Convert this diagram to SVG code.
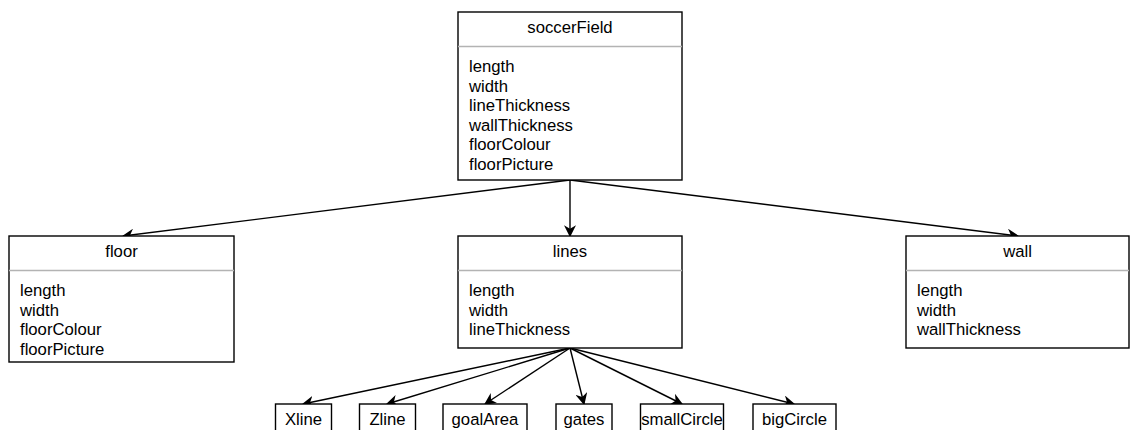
<svg xmlns="http://www.w3.org/2000/svg" width="1130" height="430" viewBox="0 0 1130 430">
<style>
.box{fill:#fff;stroke:#000;stroke-width:1.4}
.sep{stroke:#b3b3b3;stroke-width:1.5}
.t{font-family:"Liberation Sans",Arial,sans-serif;font-size:16.7px;fill:#000}
.c{text-anchor:middle}
.e{stroke:#000;stroke-width:1.4;fill:none;marker-end:url(#ah)}
</style>
<defs>
<marker id="ah" viewBox="0 0 10 10" refX="9" refY="5" markerWidth="12" markerHeight="12" markerUnits="userSpaceOnUse" orient="auto">
<path d="M0,0 L10,5 L0,10 L3,5 Z" fill="#000"/>
</marker>
</defs>
<rect width="1130" height="430" fill="#fff"/>
<g id="connectors">
<line class="e" x1="570" y1="180" x2="123" y2="236"/>
<line class="e" x1="570" y1="180" x2="570" y2="236"/>
<line class="e" x1="570" y1="180" x2="1018" y2="236"/>
<line class="e" x1="570" y1="348" x2="303" y2="404"/>
<line class="e" x1="570" y1="348" x2="387" y2="404"/>
<line class="e" x1="570" y1="348" x2="485" y2="404"/>
<line class="e" x1="570" y1="348" x2="584" y2="404"/>
<line class="e" x1="570" y1="348" x2="682" y2="404"/>
<line class="e" x1="570" y1="348" x2="794" y2="404"/>
</g>
<g id="soccerField">
<rect class="box" x="458" y="12" width="224" height="168"/>
<line class="sep" x1="458" y1="46.5" x2="682" y2="46.5"/>
<text class="t c" x="570" y="33">soccerField</text>
<text class="t" x="469" y="72">length</text>
<text class="t" x="469" y="91.5">width</text>
<text class="t" x="469" y="111">lineThickness</text>
<text class="t" x="469" y="130.5">wallThickness</text>
<text class="t" x="469" y="150">floorColour</text>
<text class="t" x="469" y="169.5">floorPicture</text>
</g>
<g id="floor">
<rect class="box" x="9" y="236" width="225" height="126"/>
<line class="sep" x1="9" y1="270.5" x2="234" y2="270.5"/>
<text class="t c" x="121.5" y="257">floor</text>
<text class="t" x="20" y="296">length</text>
<text class="t" x="20" y="315.5">width</text>
<text class="t" x="20" y="335">floorColour</text>
<text class="t" x="20" y="354.5">floorPicture</text>
</g>
<g id="lines">
<rect class="box" x="458" y="236" width="224" height="112"/>
<line class="sep" x1="458" y1="270.5" x2="682" y2="270.5"/>
<text class="t c" x="570" y="257">lines</text>
<text class="t" x="469" y="296">length</text>
<text class="t" x="469" y="315.5">width</text>
<text class="t" x="469" y="335">lineThickness</text>
</g>
<g id="wall">
<rect class="box" x="906" y="236" width="223" height="112"/>
<line class="sep" x1="906" y1="270.5" x2="1129" y2="270.5"/>
<text class="t c" x="1017.5" y="257">wall</text>
<text class="t" x="917" y="296">length</text>
<text class="t" x="917" y="315.5">width</text>
<text class="t" x="917" y="335">wallThickness</text>
</g>
<g id="Xline">
<rect class="box" x="275.5" y="404" width="56" height="40"/>
<text class="t c" x="303.5" y="425">Xline</text>
</g>
<g id="Zline">
<rect class="box" x="359.5" y="404" width="56" height="40"/>
<text class="t c" x="387.5" y="425">Zline</text>
</g>
<g id="goalArea">
<rect class="box" x="443" y="404" width="84" height="40"/>
<text class="t c" x="485" y="425">goalArea</text>
</g>
<g id="gates">
<rect class="box" x="556" y="404" width="56" height="40"/>
<text class="t c" x="584" y="425">gates</text>
</g>
<g id="smallCircle">
<rect class="box" x="640.5" y="404" width="83" height="40"/>
<text class="t c" x="682" y="425">smallCircle</text>
</g>
<g id="bigCircle">
<rect class="box" x="753" y="404" width="83" height="40"/>
<text class="t c" x="794.5" y="425">bigCircle</text>
</g>
</svg>
